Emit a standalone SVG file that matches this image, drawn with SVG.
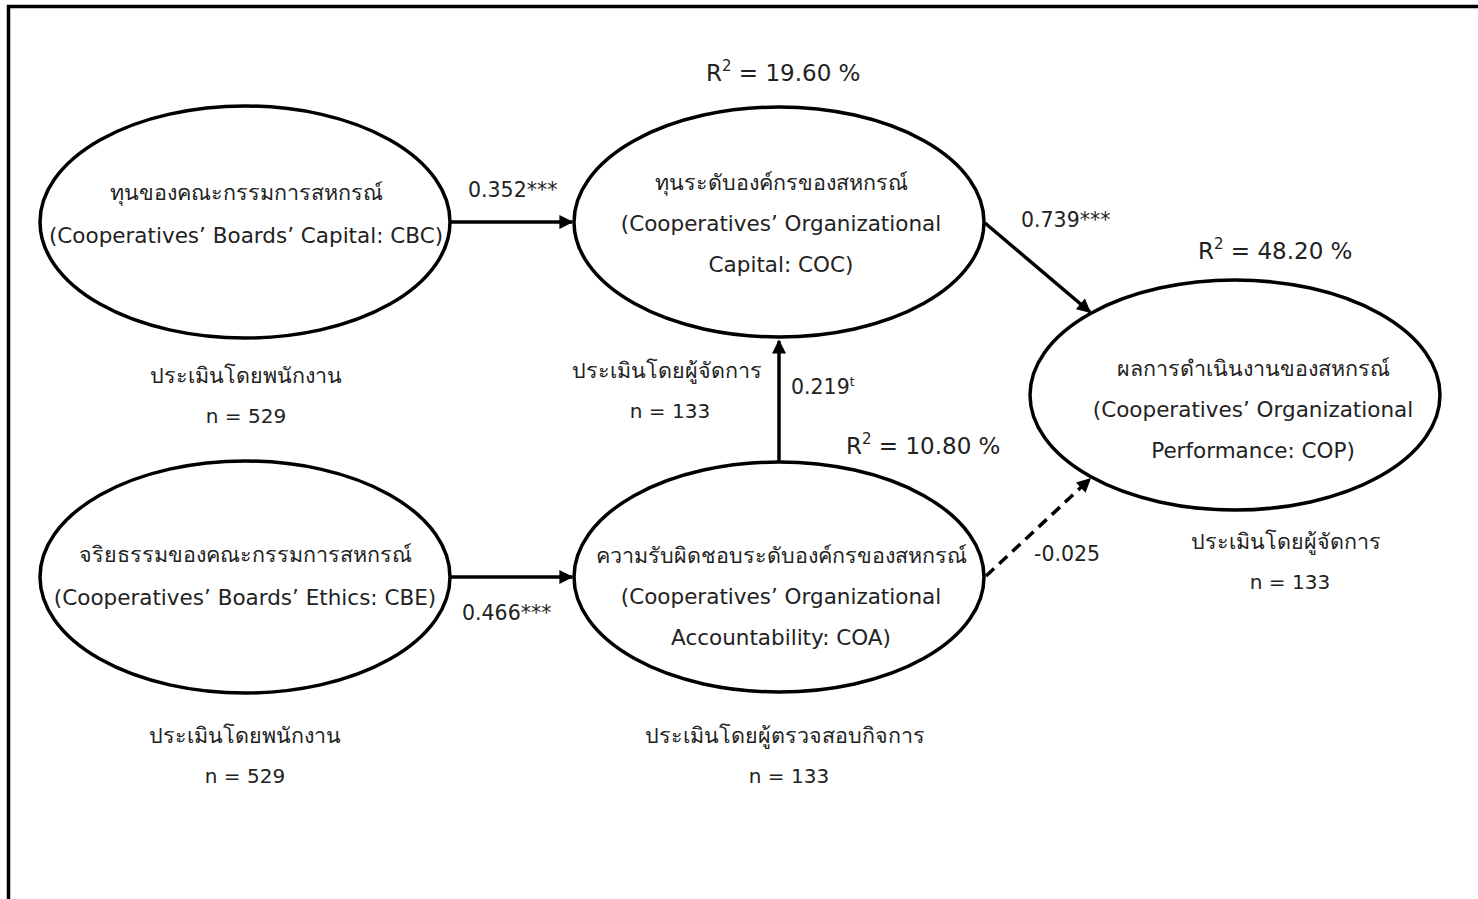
<svg xmlns="http://www.w3.org/2000/svg" width="1478" height="899" viewBox="0 0 1478 899">
<style>
.n{fill:none;stroke:#000;stroke-width:3.5}
.t{font-family:"DejaVu Sans","Noto Sans",sans-serif;font-size:20px;fill:#222;text-anchor:middle}
.e{font-size:21.5px}
.th{font-size:21.5px}
.l{font-family:"DejaVu Sans","Noto Sans",sans-serif;font-size:20.5px;fill:#222}
.r{font-size:23px}
.c{stroke:#000;stroke-width:3.5;fill:none}
</style>
<defs>
<marker id="ah" viewBox="0 0 10 10" refX="9" refY="5" markerWidth="4.5" markerHeight="4" orient="auto" markerUnits="strokeWidth">
<path d="M0,0 L10,5 L0,10 z" fill="#000"/>
</marker>
</defs>
<rect width="1478" height="899" fill="#fff"/>
<path d="M8.5,899 V6.5 H1478" fill="none" stroke="#000" stroke-width="3.5"/>
<g id="connectors">
<line class="c" x1="451" y1="222" x2="572" y2="222" marker-end="url(#ah)"/>
<line class="c" x1="451" y1="577" x2="572" y2="577" marker-end="url(#ah)"/>
<line class="c" x1="779" y1="462" x2="779" y2="341" marker-end="url(#ah)"/>
<line class="c" x1="985" y1="223" x2="1090" y2="312" marker-end="url(#ah)"/>
<line class="c" x1="986" y1="576" x2="1090" y2="479" stroke-dasharray="11,7" marker-end="url(#ah)"/>
<text class="l" x="468" y="197">0.352***</text>
<text class="l" x="462" y="620">0.466***</text>
<text class="l" x="1021" y="227">0.739***</text>
<text class="l" x="791" y="394">0.219<tspan font-size="12" dy="-8">t</tspan></text>
<text class="l" x="1034" y="561">-0.025</text>
</g>
<g id="CBC">
<ellipse class="n" cx="245" cy="222" rx="205" ry="116"/>
<text class="t th" x="246" y="200">ทุนของคณะกรรมการสหกรณ์</text>
<text class="t e" x="246" y="243">(Cooperatives’ Boards’ Capital: CBC)</text>
</g>
<g id="COC">
<ellipse class="n" cx="779" cy="222" rx="205" ry="115"/>
<text class="t th" x="781" y="190">ทุนระดับองค์กรของสหกรณ์</text>
<text class="t e" x="781" y="231">(Cooperatives’ Organizational</text>
<text class="t e" x="781" y="272">Capital: COC)</text>
</g>
<g id="CBE">
<ellipse class="n" cx="245" cy="577" rx="205" ry="116"/>
<text class="t th" x="245" y="562">จริยธรรมของคณะกรรมการสหกรณ์</text>
<text class="t e" x="245" y="605">(Cooperatives’ Boards’ Ethics: CBE)</text>
</g>
<g id="COA">
<ellipse class="n" cx="779" cy="577" rx="205" ry="115"/>
<text class="t th" x="781" y="563">ความรับผิดชอบระดับองค์กรของสหกรณ์</text>
<text class="t e" x="781" y="604">(Cooperatives’ Organizational</text>
<text class="t e" x="781" y="645">Accountability: COA)</text>
</g>
<g id="COP">
<ellipse class="n" cx="1235" cy="395" rx="205" ry="115"/>
<text class="t th" x="1253" y="376">ผลการดำเนินงานของสหกรณ์</text>
<text class="t e" x="1253" y="417">(Cooperatives’ Organizational</text>
<text class="t e" x="1253" y="458">Performance: COP)</text>
</g>
<g id="labels">
<text class="t th" x="246" y="383">ประเมินโดยพนักงาน</text>
<text class="t" x="246" y="423">n = 529</text>
<text class="t th" x="667" y="378">ประเมินโดยผู้จัดการ</text>
<text class="t" x="670" y="418">n = 133</text>
<text class="t th" x="245" y="743">ประเมินโดยพนักงาน</text>
<text class="t" x="245" y="783">n = 529</text>
<text class="t th" x="785" y="743">ประเมินโดยผู้ตรวจสอบกิจการ</text>
<text class="t" x="789" y="783">n = 133</text>
<text class="t th" x="1286" y="549">ประเมินโดยผู้จัดการ</text>
<text class="t" x="1290" y="589">n = 133</text>
<text class="l r" x="706" y="81">R<tspan font-size="15" dy="-10">2</tspan><tspan dy="10"> = 19.60 %</tspan></text>
<text class="l r" x="1198" y="259">R<tspan font-size="15" dy="-10">2</tspan><tspan dy="10"> = 48.20 %</tspan></text>
<text class="l r" x="846" y="454">R<tspan font-size="15" dy="-10">2</tspan><tspan dy="10"> = 10.80 %</tspan></text>
</g>
</svg>
